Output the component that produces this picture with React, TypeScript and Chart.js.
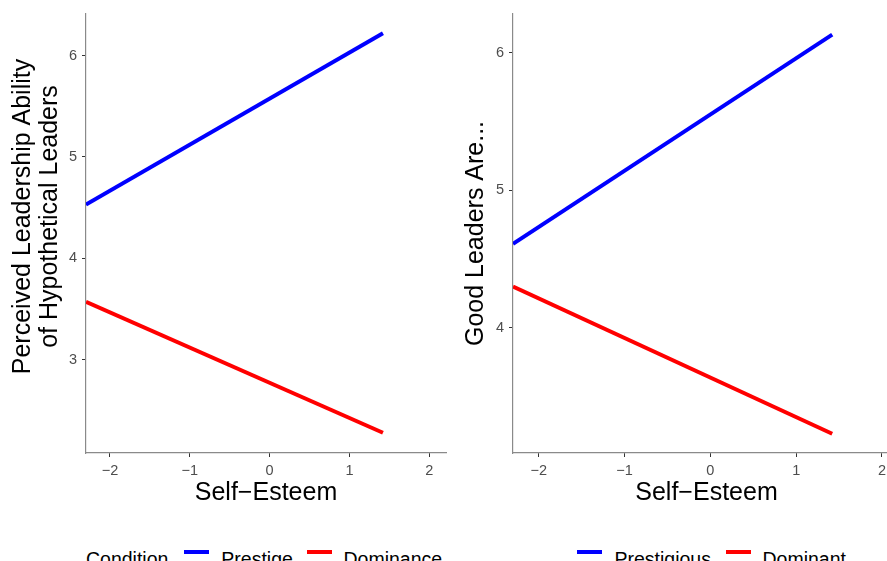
import React, { useEffect, useRef } from "react";
import { Chart, registerables } from "chart.js";

Chart.register(...registerables);

// ---- data ----
const xValues = [-2.3, 1.42];
const xTicks = [-2, -1, 0, 1, 2];
const xMin = -2.3;
const xMax = 2.21;

const leftLabels = ["Prestige", "Dominance"];
const leftPrestige = [4.53, 6.22];
const leftDominance = [3.57, 2.28];
const leftYTicks = [3, 4, 5, 6];
const leftYMin = 2.08;
const leftYMax = 6.41;

const rightLabels = ["Prestigious", "Dominant"];
const rightPrestigious = [4.61, 6.13];
const rightDominant = [4.3, 3.23];
const rightYTicks = [4, 5, 6];
const rightYMin = 3.09;
const rightYMax = 6.28;

const legendTitle = "Condition";
const xTitle = "Self\u2212Esteem";
const leftYTitle = ["Perceived Leadership Ability", "of Hypothetical Leaders"];
const rightYTitle = "Good Leaders Are...";

const seriesColors = ["#0000ff", "#ff0000"];
const FONT = "'Liberation Sans', Arial, Helvetica, sans-serif";

const fmt = (v: number) => String(v).replace("-", "\u2212");

const leftTitlePlugin = {
  id: "leftYTitle",
  afterDraw(chart: any) {
    const { ctx, chartArea } = chart;
    const cy = (chartArea.top + chartArea.bottom) / 2 - 17;
    ctx.save();
    ctx.fillStyle = "#000";
    ctx.font = `25px ${FONT}`;
    ctx.textAlign = "center";
    ctx.textBaseline = "middle";
    const xs = [23, 50.5];
    leftYTitle.forEach((line, i) => {
      ctx.save();
      ctx.translate(xs[i], cy);
      ctx.rotate(-Math.PI / 2);
      ctx.fillText(line, 0, 0);
      ctx.restore();
    });
    ctx.restore();
  },
};

function makeConfig(o: any) {
  const tickFont = { family: FONT, size: 14.5 };
  const grid = {
    display: true,
    drawOnChartArea: false,
    drawTicks: true,
    tickLength: 4,
    color: "#333333",
    lineWidth: 1,
  };
  const border = { display: true, color: "#8a8a8a", width: 1.2 };
  return {
    type: "line",
    data: {
      datasets: o.series.map((s: number[], i: number) => ({
        label: o.labels[i],
        data: xValues.map((x, j) => ({ x, y: s[j] })),
        borderColor: seriesColors[i],
        backgroundColor: seriesColors[i],
        borderWidth: 4,
        pointRadius: 0,
        tension: 0,
        fill: false,
        borderCapStyle: "butt",
      })),
    },
    options: {
      responsive: false,
      animation: false,
      events: [],
      layout: { padding: { top: 14, right: o.padRight, left: 0, bottom: 0 } },
      plugins: { legend: { display: false }, tooltip: { enabled: false }, title: { display: false } },
      scales: {
        x: {
          type: "linear",
          min: xMin,
          max: xMax,
          afterBuildTicks: (s: any) => {
            s.ticks = xTicks.map((v) => ({ value: v }));
          },
          afterFit: (s: any) => {
            s.height = 67;
          },
          ticks: { font: tickFont, color: "#4d4d4d", padding: 5, maxRotation: 0, callback: (v: number) => fmt(v) },
          grid,
          border,
          title: {
            display: true,
            text: xTitle,
            color: "#000",
            font: { family: FONT, size: 25 },
            padding: { top: 0, bottom: 12 },
          },
        },
        y: {
          type: "linear",
          min: o.yMin,
          max: o.yMax,
          afterBuildTicks: (s: any) => {
            s.ticks = o.yTicks.map((v: number) => ({ value: v }));
          },
          afterFit: (s: any) => {
            s.width = o.yWidth;
          },
          ticks: { font: tickFont, color: "#4d4d4d", padding: 5, callback: (v: number) => fmt(v) },
          grid,
          border,
          title: o.yTitle
            ? {
                display: true,
                text: o.yTitle,
                color: "#000",
                font: { family: FONT, size: 25 },
                padding: { top: 11, bottom: 0 },
              }
            : { display: false },
        },
      },
    },
    plugins: o.plugins || [],
  } as any;
}

const legendText: React.CSSProperties = {
  position: "absolute",
  fontFamily: FONT,
  fontSize: "19.5px",
  lineHeight: "19.5px",
  color: "#000",
  whiteSpace: "nowrap",
  top: 550.2,
};
const keyLine = (left: number, color: string): React.CSSProperties => ({
  position: "absolute",
  left,
  top: 549.5,
  width: 24.5,
  height: 4,
  background: color,
});

export default function App() {
  const leftRef = useRef<HTMLCanvasElement>(null);
  const rightRef = useRef<HTMLCanvasElement>(null);

  useEffect(() => {
    const c1 = new Chart(
      leftRef.current!,
      makeConfig({
        series: [leftPrestige, leftDominance],
        labels: leftLabels,
        yMin: leftYMin,
        yMax: leftYMax,
        yTicks: leftYTicks,
        yWidth: 86,
        padRight: 4,
        yTitle: null,
        plugins: [leftTitlePlugin],
      })
    );
    const c2 = new Chart(
      rightRef.current!,
      makeConfig({
        series: [rightPrestigious, rightDominant],
        labels: rightLabels,
        yMin: rightYMin,
        yMax: rightYMax,
        yTicks: rightYTicks,
        yWidth: 63,
        padRight: 10,
        yTitle: rightYTitle,
      })
    );
    return () => {
      c1.destroy();
      c2.destroy();
    };
  }, []);

  return (
    <div
      style={{
        position: "absolute",
        left: 0,
        top: 0,
        width: 887,
        height: 561,
        overflow: "hidden",
        background: "#fff",
      }}
    >
      <canvas
        ref={leftRef}
        width={450}
        height={520}
        style={{ position: "absolute", left: 0, top: 0, width: 450, height: 520 }}
      />
      <canvas
        ref={rightRef}
        width={460}
        height={520}
        style={{ position: "absolute", left: 450, top: 0, width: 460, height: 520 }}
      />
      <span style={{ ...legendText, left: 86 }}>{legendTitle}</span>
      <div style={keyLine(184, seriesColors[0])} />
      <span style={{ ...legendText, left: 221.3 }}>{leftLabels[0]}</span>
      <div style={keyLine(307.3, seriesColors[1])} />
      <span style={{ ...legendText, left: 343.5 }}>{leftLabels[1]}</span>

      <div style={keyLine(577.3, seriesColors[0])} />
      <span style={{ ...legendText, left: 614.5 }}>{rightLabels[0]}</span>
      <div style={keyLine(726.2, seriesColors[1])} />
      <span style={{ ...legendText, left: 762.5 }}>{rightLabels[1]}</span>
    </div>
  );
}
